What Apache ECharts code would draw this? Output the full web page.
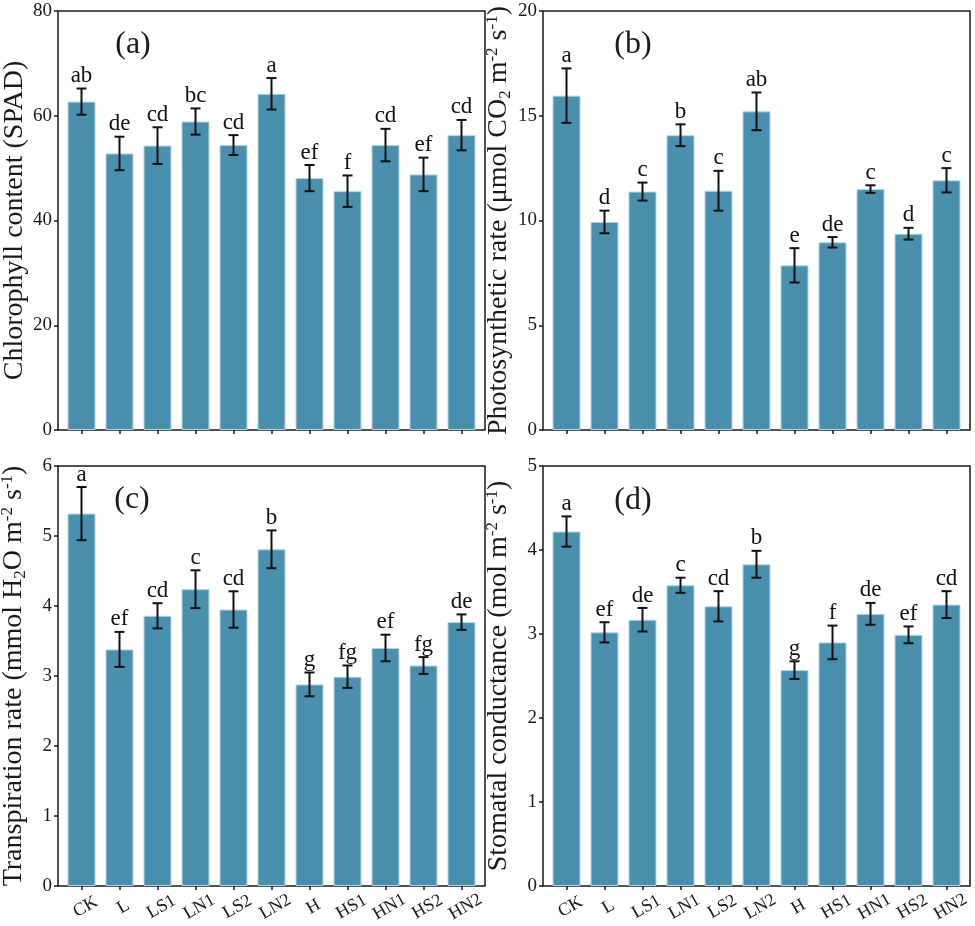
<!DOCTYPE html>
<html>
<head>
<meta charset="utf-8">
<script src="https://cdn.jsdelivr.net/npm/echarts@6/dist/echarts.min.js"></script>
<style>
  html, body { margin: 0; padding: 0; background: #fff; }
  #chart { width: 975px; height: 926px; }
</style>
</head>
<body>
<div id="chart"></div>
<script>
// treatments
var categories = ['CK', 'L', 'LS1', 'LN1', 'LS2', 'LN2', 'H', 'HS1', 'HN1', 'HS2', 'HN2'];

// (a) chlorophyll content, SPAD
var chlMean = [62.7, 52.8, 54.3, 58.9, 54.4, 64.2, 48.1, 45.6, 54.4, 48.8, 56.3];
var chlSd = [2.5, 3.2, 3.5, 2.5, 1.9, 3.0, 2.5, 3.0, 3.1, 3.2, 2.9];
var chlLetters = ['ab', 'de', 'cd', 'bc', 'cd', 'a', 'ef', 'f', 'cd', 'ef', 'cd'];

// (b) photosynthetic rate
var pnMean = [15.96, 9.93, 11.38, 14.07, 11.42, 15.21, 7.86, 8.96, 11.50, 9.37, 11.92];
var pnSd = [1.3, 0.54, 0.43, 0.52, 0.95, 0.9, 0.82, 0.25, 0.18, 0.28, 0.58];
var pnLetters = ['a', 'd', 'c', 'b', 'c', 'ab', 'e', 'de', 'c', 'd', 'c'];

// (c) transpiration rate
var trMean = [5.32, 3.38, 3.86, 4.24, 3.95, 4.81, 2.88, 2.99, 3.40, 3.15, 3.77];
var trSd = [0.38, 0.25, 0.18, 0.27, 0.26, 0.27, 0.17, 0.16, 0.19, 0.12, 0.11];
var trLetters = ['a', 'ef', 'cd', 'c', 'cd', 'b', 'g', 'fg', 'ef', 'fg', 'de'];

// (d) stomatal conductance
var gsMean = [4.22, 3.02, 3.17, 3.58, 3.33, 3.83, 2.57, 2.90, 3.24, 2.99, 3.35];
var gsSd = [0.18, 0.12, 0.14, 0.09, 0.18, 0.16, 0.105, 0.2, 0.13, 0.1, 0.16];
var gsLetters = ['a', 'ef', 'de', 'c', 'cd', 'b', 'g', 'f', 'de', 'ef', 'cd'];

// y axis ranges
var yMax = [80, 20, 6, 5];
var yStep = [20, 5, 1, 1];

var FONT = "'Liberation Serif', 'Times New Roman', serif";
var INK = '#1a1a1a';
var LABEL_ROT = 30;

var panels = [
  { tag: '(a)', mean: chlMean, sd: chlSd, letters: chlLetters, left: 58, top: 11, height: 419, bottom: false,
    name: 'Chlorophyll content (SPAD)', tagX: 133, tagY: 45 },
  { tag: '(b)', mean: pnMean, sd: pnSd, letters: pnLetters, left: 543, top: 11, height: 419, bottom: false,
    name: '{n|Photosynthetic rate (μmol CO}{sub|2}{n| m}{sup|-2}{n| s}{sup|-1}{n|)}', tagX: 633, tagY: 45 },
  { tag: '(c)', mean: trMean, sd: trSd, letters: trLetters, left: 58, top: 466, height: 420, bottom: true,
    name: '{n|Transpiration rate (mmol H}{sub|2}{n|O m}{sup|-2}{n| s}{sup|-1}{n|)}', tagX: 132, tagY: 500 },
  { tag: '(d)', mean: gsMean, sd: gsSd, letters: gsLetters, left: 543, top: 466, height: 420, bottom: true,
    name: '{n|Stomatal conductance (mol m}{sup|-2}{n| s}{sup|-1}{n|)}', tagX: 633, tagY: 501 }
];

var nameRich = {
  n: { fontFamily: FONT, fontSize: 28, color: INK, lineHeight: 30 },
  sup: { fontFamily: FONT, fontSize: 17, color: INK, verticalAlign: 'top', lineHeight: 16 },
  sub: { fontFamily: FONT, fontSize: 17, color: INK, verticalAlign: 'bottom', lineHeight: 16 }
};

// error bar + significance letter (+ slanted category label on bottom row)
function errRender(letters, withLabel) {
  return function (params, api) {
    var i = api.value(0);
    var m = api.value(1), s = api.value(2);
    var top = api.coord([i, m + s]);
    var bot = api.coord([i, m - s]);
    var base = api.coord([i, 0]);
    var hw = 5;
    var st = { stroke: '#111', lineWidth: 2 };
    var kids = [
      { type: 'line', shape: { x1: top[0], y1: top[1], x2: bot[0], y2: bot[1] }, style: st },
      { type: 'line', shape: { x1: top[0] - hw, y1: top[1], x2: top[0] + hw, y2: top[1] }, style: st },
      { type: 'line', shape: { x1: bot[0] - hw, y1: bot[1], x2: bot[0] + hw, y2: bot[1] }, style: st },
      { type: 'text', x: top[0], y: top[1] - 1,
        style: { text: letters[params.dataIndex], font: '23px ' + FONT, fill: '#111',
                 align: 'center', verticalAlign: 'bottom' } }
    ];
    if (withLabel) {
      kids.push({ type: 'text', x: base[0] + 4, y: base[1] + 21, rotation: LABEL_ROT * Math.PI / 180,
        style: { text: categories[params.dataIndex], font: '18px ' + FONT, fill: INK,
                 align: 'center', verticalAlign: 'middle' } });
    }
    return { type: 'group', children: kids };
  };
}

var grid = [], xAxis = [], yAxis = [], series = [], graphic = [];

panels.forEach(function (p, k) {
  var fi = 2 * k, di = 2 * k + 1;
  // frame grid (border + y axis)
  grid.push({ left: p.left, top: p.top, width: 427, height: p.height, show: true,
              borderColor: INK, borderWidth: 1.5, backgroundColor: 'transparent',
              containLabel: false, outerBoundsMode: 'none' });
  // data grid, slightly inset
  grid.push({ left: p.left + 4.5, top: p.top, width: 418, height: p.height,
              containLabel: false, outerBoundsMode: 'none' });

  xAxis.push({ type: 'category', gridIndex: fi, show: false, data: categories });
  xAxis.push({
    type: 'category', gridIndex: di, data: categories,
    axisLine: { show: false },
    axisTick: { show: true, alignWithLabel: true, length: 4, lineStyle: { color: INK, width: 1.5 } },
    axisLabel: { show: false }
  });

  yAxis.push({
    type: 'value', gridIndex: fi, min: 0, max: yMax[k], interval: yStep[k],
    axisLine: { show: false },
    axisTick: { show: true, length: 4, lineStyle: { color: INK, width: 1.5 } },
    axisLabel: { fontFamily: FONT, fontSize: 19, color: INK, margin: 6 },
    splitLine: { show: false },
    name: p.name, nameLocation: 'middle', nameGap: 29,
    nameTextStyle: { fontFamily: FONT, fontSize: 28, color: INK, rich: nameRich }
  });
  yAxis.push({ type: 'value', gridIndex: di, min: 0, max: yMax[k], show: false });

  series.push({
    type: 'bar', xAxisIndex: di, yAxisIndex: di, data: p.mean, barWidth: 28,
    itemStyle: { color: '#4a8fad', borderColor: '#b3d4e2', borderWidth: 1 },
    silent: true, z: 2
  });
  series.push({
    type: 'custom', xAxisIndex: di, yAxisIndex: di, z: 5, silent: true, clip: false,
    data: p.mean.map(function (m, i) { return [i, m, p.sd[i]]; }),
    renderItem: errRender(p.letters, p.bottom)
  });

  graphic.push({ type: 'text', x: p.tagX, y: p.tagY,
                 style: { text: p.tag, font: '32px ' + FONT, fill: INK, align: 'center', verticalAlign: 'middle' } });
});

var myChart = echarts.init(document.getElementById('chart'));
myChart.setOption({
  animation: false,
  backgroundColor: '#fff',
  grid: grid,
  xAxis: xAxis,
  yAxis: yAxis,
  series: series,
  graphic: graphic
});
</script>
</body>
</html>
